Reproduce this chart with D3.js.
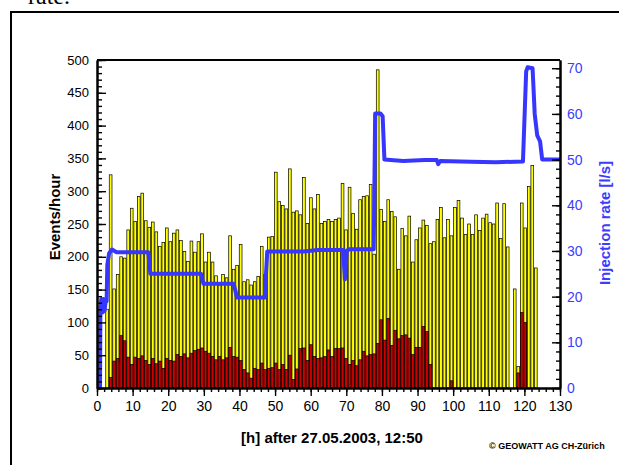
<!DOCTYPE html>
<html>
<head>
<meta charset="utf-8">
<script src="https://cdn.jsdelivr.net/npm/d3@7/dist/d3.min.js"></script>
<style>
  body { margin: 0; background: #fff; }
  text { font-family: "Liberation Sans", Arial, sans-serif; }
</style>
</head>
<body>
<div id="chart"></div>
<script>
// hourly event bins (first bin centre, bin length in hours)
var firstHour = 2.84;
var binHours = 0.9866;

// all events per hour (yellow)
var events = [120,
  325, 151, 173, 200, 198, 241, 274, 254, 292, 297, 255, 245, 253, 238, 216, 222, 244, 223, 236, 241, 225, 208, 193,
  224, 207, 223, 235, 192, 207, 192, 171, 157, 173, 168, 232, 181, 187, 219, 162, 165, 157, 162, 170, 216, 173, 230, 231,
  329, 284, 278, 273, 334,
  268, 270, 264, 321, 251, 290, 273, 295, 251, 254, 257, 254, 257, 259, 312, 241, 306, 266, 242, 287, 292, 293, 310, 204,
  485,
  272, 254, 287, 269, 261, 181, 243, 232, 262, 192, 226, 244, 256, 248, 220, 223, 257, 275, 229, 257, 232, 275, 286, 259, 234, 250, 234,
  264, 240, 259, 265, 252, 250, 282, 228, 281, 215, 0, 151, 33, 282, 244, 307, 339, 183];

// located events per hour (red)
var located = [0,
  16, 41, 45, 80, 72, 47, 36, 47, 45, 49, 42, 36, 45, 37, 41, 30, 45, 42, 41, 51, 48, 52, 46,
  53, 57, 59, 61, 56, 53, 48, 43, 48, 43, 46, 62, 48, 47, 42, 28, 23, 15, 30, 28, 38, 28, 30, 31,
  38, 28, 36, 28, 50,
  13, 29, 60, 61, 42, 66, 48, 45, 46, 48, 58, 48, 60, 60, 61, 45, 36, 42, 34, 43, 56, 49, 51, 52,
  68, 104, 73, 106, 65, 88, 75, 80, 81, 76, 51, 62, 62, 94, 86, 36,
  0, 0, 0, 0, 0, 11, 0, 0, 0, 0, 0, 0, 0, 0, 0, 0, 0, 0, 0, 0, 0, 0, 0, 0, 23, 115, 100, 0, 0, 0];

// injection rate [l/s]
var rateHours = [0, 0.85, 0.95, 1.2, 1.5, 1.8, 2.1, 2.4, 2.7, 2.9, 3.4, 4.2, 5.5, 14.4, 15.0, 29.2, 29.9, 38.4, 39.3,
  47.1, 47.8, 58, 62, 69.1, 69.6, 70.1, 71, 77.7, 78.1, 79.6, 80.2, 80.7, 86, 92, 95.4, 95.8, 96.4, 105, 112,
  119.6, 120.5, 120.9, 122.3, 122.9, 123.6, 124.4, 125.0, 130];
var rateValues = [0, 0, 17, 19.5, 16.5, 19.5, 16.8, 18.8, 19, 27, 29.5, 30.3, 29.7, 29.7, 25, 25, 22.8, 22.8, 19.8,
  19.8, 29.9, 29.9, 30.2, 30.2, 23.8, 30.1, 30.4, 30.4, 60.1, 60.1, 59.5, 50, 49.7, 49.9, 49.9, 49, 49.7, 49.5, 49.4,
  49.6, 69.3, 70.2, 70, 60, 55.3, 54, 50, 50];

var xTicks = d3.range(0, 131, 10);
var leftTicks = d3.range(0, 501, 50);
var rightTicks = d3.range(0, 71, 10);

var svgWidth = 619;
var svgHeight = 465;
var plot = { left: 97, right: 560, top: 60, bottom: 388 };

var svg = d3.select("#chart")
  .append("svg")
  .attr("width", svgWidth)
  .attr("height", svgHeight);

// page fragment above and the box round the figure
svg.append("text")
  .attr("x", 28)
  .attr("y", 4)
  .style("font-family", "'Liberation Serif', 'Times New Roman', serif")
  .style("font-size", "24px")
  .text("rate.");

svg.append("rect")
  .attr("x", 11)
  .attr("y", 12)
  .attr("width", 700)
  .attr("height", 600)
  .attr("fill", "none")
  .attr("stroke", "#000")
  .attr("stroke-width", 2);

var x = d3.scaleLinear().domain([0, 130]).range([plot.left, plot.right]);
var yLeft = d3.scaleLinear().domain([0, 500]).range([plot.bottom, plot.top]);
var yRight = d3.scaleLinear().domain([0, 71.8]).range([plot.bottom, plot.top]);

var barData = events.map(function (d, i) {
  return { hour: firstHour + i * binHours, total: d, loc: located[i] };
});
var barW = (x(binHours) - x(0)) * 0.78;

// yellow bars
svg.append("g").selectAll("rect")
  .data(barData.filter(d => d.total > 0))
  .enter()
  .append("rect")
  .attr("x", d => x(d.hour) - barW / 2)
  .attr("y", d => yLeft(d.total))
  .attr("width", barW)
  .attr("height", d => yLeft(0) - yLeft(d.total))
  .attr("fill", "#ffff00")
  .attr("stroke", "#000")
  .attr("stroke-width", 0.7);

// red bars
svg.append("g").selectAll("rect")
  .data(barData.filter(d => d.loc > 0))
  .enter()
  .append("rect")
  .attr("x", d => x(d.hour) - barW / 2)
  .attr("y", d => yLeft(d.loc))
  .attr("width", barW)
  .attr("height", d => yLeft(0) - yLeft(d.loc))
  .attr("fill", "#cc0000")
  .attr("stroke", "#000")
  .attr("stroke-width", 0.7);

// injection rate line
var rateData = rateHours.map((h, i) => [h, rateValues[i]]);
var line = d3.line()
  .x(d => x(d[0]))
  .y(d => yRight(d[1]));

svg.append("path")
  .datum(rateData)
  .attr("d", line)
  .attr("fill", "none")
  .attr("stroke", "#3636ff")
  .attr("stroke-width", 4)
  .attr("stroke-linejoin", "round");

// axes
function styleAxis(g, color) {
  g.selectAll("path").attr("stroke", "#000").attr("stroke-width", 2);
  g.selectAll("line").attr("stroke", "#000").attr("stroke-width", 1.4);
  g.selectAll("text")
    .attr("fill", color)
    .style("font-family", "'Liberation Sans', Arial, sans-serif");
}

var leftMinor = svg.append("g")
  .attr("transform", `translate(${plot.left}, 0)`)
  .call(d3.axisLeft(yLeft).tickValues(d3.range(0, 501, 10)).tickSizeInner(-5).tickSizeOuter(0).tickFormat(""));
styleAxis(leftMinor, "#000");

var leftAxis = svg.append("g")
  .attr("transform", `translate(${plot.left}, 0)`)
  .call(d3.axisLeft(yLeft).tickValues(leftTicks).tickSizeInner(-9).tickSizeOuter(0).tickPadding(8));
styleAxis(leftAxis, "#000");
leftAxis.selectAll("text").style("font-size", "13px");

var bottomMinor = svg.append("g")
  .attr("transform", `translate(0, ${plot.bottom})`)
  .call(d3.axisBottom(x).tickValues(d3.range(0, 131, 2)).tickSizeInner(4).tickSizeOuter(0).tickFormat(""));
styleAxis(bottomMinor, "#000");

var bottomAxis = svg.append("g")
  .attr("transform", `translate(0, ${plot.bottom})`)
  .call(d3.axisBottom(x).tickValues(xTicks).tickSizeInner(8).tickSizeOuter(0).tickPadding(5));
styleAxis(bottomAxis, "#000");
bottomAxis.selectAll("text").style("font-size", "14px");

var rightMinor = svg.append("g")
  .attr("transform", `translate(${plot.right}, 0)`)
  .call(d3.axisRight(yRight).tickValues(d3.range(0, 71, 2)).tickSizeInner(-4).tickSizeOuter(0).tickFormat(""));
styleAxis(rightMinor, "#000");

var rightAxis = svg.append("g")
  .attr("transform", `translate(${plot.right}, 0)`)
  .call(d3.axisRight(yRight).tickValues(rightTicks).tickSizeInner(-8).tickSizeOuter(0).tickPadding(7));
styleAxis(rightAxis, "#3c3cff");
rightAxis.selectAll("text").style("font-size", "14px");

// top frame line
svg.append("line")
  .attr("x1", plot.left)
  .attr("x2", plot.right)
  .attr("y1", plot.top)
  .attr("y2", plot.top)
  .attr("stroke", "#000")
  .attr("stroke-width", 2);

// titles
svg.append("text")
  .attr("transform", "translate(60, 217) rotate(-90)")
  .attr("text-anchor", "middle")
  .style("font-size", "15px")
  .style("font-weight", "bold")
  .text("Events/hour");

svg.append("text")
  .attr("transform", "translate(610, 223) rotate(-90)")
  .attr("text-anchor", "middle")
  .attr("fill", "#3c3cff")
  .style("font-size", "15px")
  .style("font-weight", "bold")
  .text("Injection rate [l/s]");

svg.append("text")
  .attr("x", 332)
  .attr("y", 443)
  .attr("text-anchor", "middle")
  .style("font-size", "15px")
  .style("font-weight", "bold")
  .text("[h] after 27.05.2003, 12:50");

svg.append("text")
  .attr("x", 489)
  .attr("y", 449)
  .style("font-size", "9px")
  .style("font-weight", "bold")
  .text("© GEOWATT AG CH-Zürich");
</script>
</body>
</html>
